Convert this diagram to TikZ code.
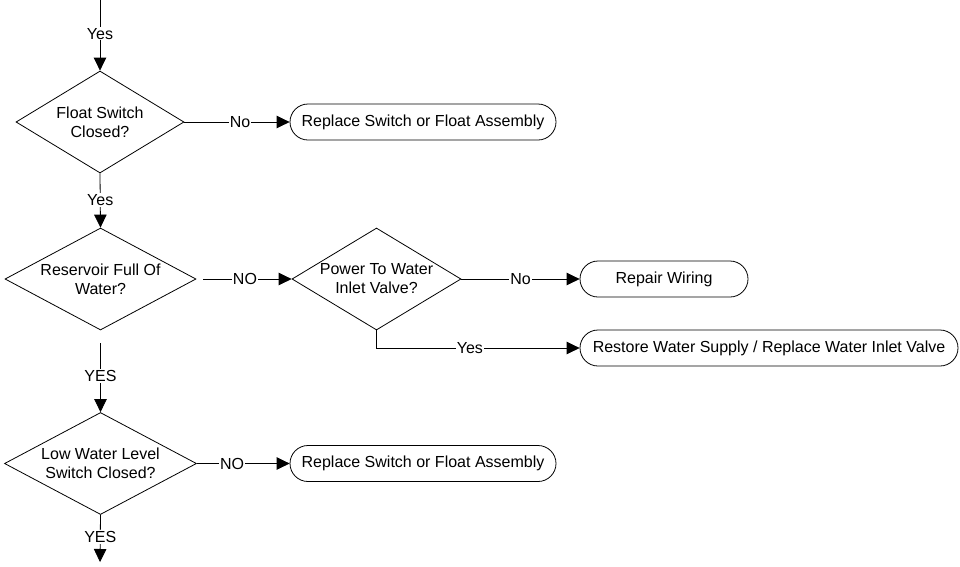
\documentclass[tikz,border=0pt]{standalone}
\usepackage{fontspec}
\setmainfont{Liberation Sans}
\usetikzlibrary{shapes.geometric,arrows.meta,calc}
\begin{document}
\begin{tikzpicture}[x=1pt,y=-1pt,
  every node/.style={font=\fontsize{16}{19}\selectfont},
  decision/.style={draw,shape=diamond,inner sep=0pt,line width=0.8pt,
    minimum width=#1,minimum height=102pt},
  dtext/.style={align=center,inner sep=0pt},
  terminal/.style={draw,rectangle,rounded corners=18pt,line width=0.8pt,
    minimum height=36pt,minimum width=#1,inner sep=0pt},
  conn/.style={line width=0.8pt,-{Triangle[length=13pt,width=12.5pt]}},
  lbl/.style={fill=white,inner sep=1pt}
]
\useasboundingbox (0,0) rectangle (960,566);

\coordinate (start) at (100,0);
\node[decision=168pt,label={[dtext]center:Float Switch\\Closed?}] (d1) at (100,122) {};
\node[terminal=266pt] (t1) at (423,122) {Replace Switch or Float Assembly};
\node[decision=191pt,label={[dtext]center:Reservoir Full Of\\Water?}] (d2) at (100.5,279) {};
\node[decision=169pt,label={[dtext]center:Power To Water\\Inlet Valve?}] (d3) at (376.5,279) {};
\node[terminal=168pt] (t2) at (664,279) {Repair Wiring};
\node[terminal=378pt] (t3) at (769,348) {Restore Water Supply / Replace Water Inlet Valve};
\node[decision=192pt,label={[dtext]center:Low Water Level\\Switch Closed?}] (d4) at (100.5,463.5) {};
\node[terminal=266pt] (t4) at (423,463.5) {Replace Switch or Float Assembly};
\coordinate (end) at (100,562);

\draw[conn] (start) -- node[lbl,pos=0.48] {Yes} (d1.north);
\draw[conn] (d1.east) -- node[lbl,pos=0.53] {No} (t1.west);
\draw[conn] (d1.south) -- node[lbl,pos=0.49] {Yes} (d2.north);
\draw[conn,shorten <=7pt] (d2.east) -- node[lbl,pos=0.51] {NO} (d3.west);
\draw[conn] (d3.east) -- node[lbl,pos=0.5] {No} (t2.west);
\draw[conn] (d3.south) |- node[lbl,pos=0.73] {Yes} (t3.west);
\draw[conn,shorten <=13pt] (d2.south) -- node[lbl,pos=0.56] {YES} (d4.north);
\draw[conn] (d4.east) -- node[lbl,pos=0.38] {NO} (t4.west);
\draw[conn] (d4.south) -- node[lbl,pos=0.47] {YES} (end);
\end{tikzpicture}
\end{document}
